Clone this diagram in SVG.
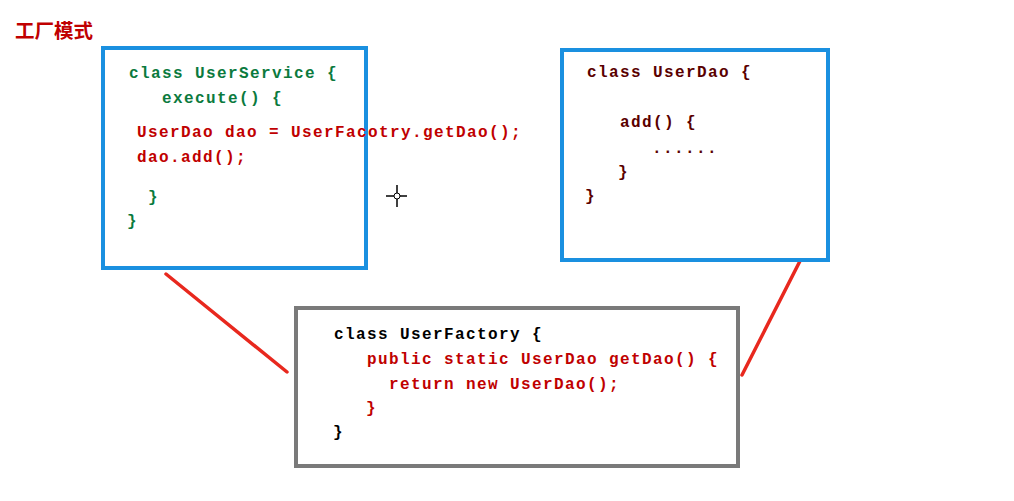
<svg xmlns="http://www.w3.org/2000/svg" width="1014" height="501" viewBox="0 0 1014 501">
<style>
.code{font-family:"Liberation Mono","DejaVu Sans Mono",monospace;font-size:16px;letter-spacing:1.4px;font-weight:bold}
.g{fill:#0b7a3e}
.r{fill:#c00000}
.m{fill:#5a0000}
.k{fill:#000}
.blue{fill:#fff;stroke:#1a90e0;stroke-width:4}
.gray{fill:#fff;stroke:#7a7a7a;stroke-width:4}
.conn{stroke:#e8281e;stroke-width:3.5;stroke-linecap:round}
</style>
<rect width="1014" height="501" fill="#fff"/>
<text x="15" y="38" font-family="'Noto Sans CJK SC',sans-serif" font-size="19.5" font-weight="bold" fill="#c00000">工厂模式</text>
<g id="connectors">
<line class="conn" x1="166" y1="274" x2="287" y2="372"/>
<line class="conn" x1="800" y1="261" x2="742" y2="375"/>
</g>
<g id="userService">
<rect class="blue" x="103" y="48" width="263" height="220"/>
<text class="code g" x="129" y="78">class UserService {</text>
<text class="code g" x="162" y="103">execute() {</text>
<text class="code r" x="137" y="137">UserDao dao = UserFacotry.getDao();</text>
<text class="code r" x="137" y="162">dao.add();</text>
<text class="code g" x="148" y="202">}</text>
<text class="code g" x="127" y="226">}</text>
</g>
<g id="userDao">
<rect class="blue" x="562" y="50" width="266" height="210"/>
<text class="code m" x="587" y="77">class UserDao {</text>
<text class="code m" x="620" y="127">add() {</text>
<text class="code m" x="652" y="153">......</text>
<text class="code m" x="618" y="177">}</text>
<text class="code m" x="585" y="201">}</text>
</g>
<g id="userFactory">
<rect class="gray" x="296" y="308" width="442" height="158"/>
<text class="code k" x="334" y="339">class UserFactory {</text>
<text class="code r" x="367" y="364">public static UserDao getDao() {</text>
<text class="code r" x="389" y="389">return new UserDao();</text>
<text class="code r" x="366" y="413">}</text>
<text class="code k" x="333" y="437">}</text>
</g>
<g id="cursor" stroke="#000" stroke-width="1.5" fill="none">
<line x1="386" y1="196" x2="394" y2="196"/>
<line x1="400" y1="196" x2="407" y2="196"/>
<line x1="397" y1="185" x2="397" y2="193"/>
<line x1="397" y1="199" x2="397" y2="207"/>
<circle cx="397" cy="196" r="3" stroke-width="1"/>
</g>
</svg>
